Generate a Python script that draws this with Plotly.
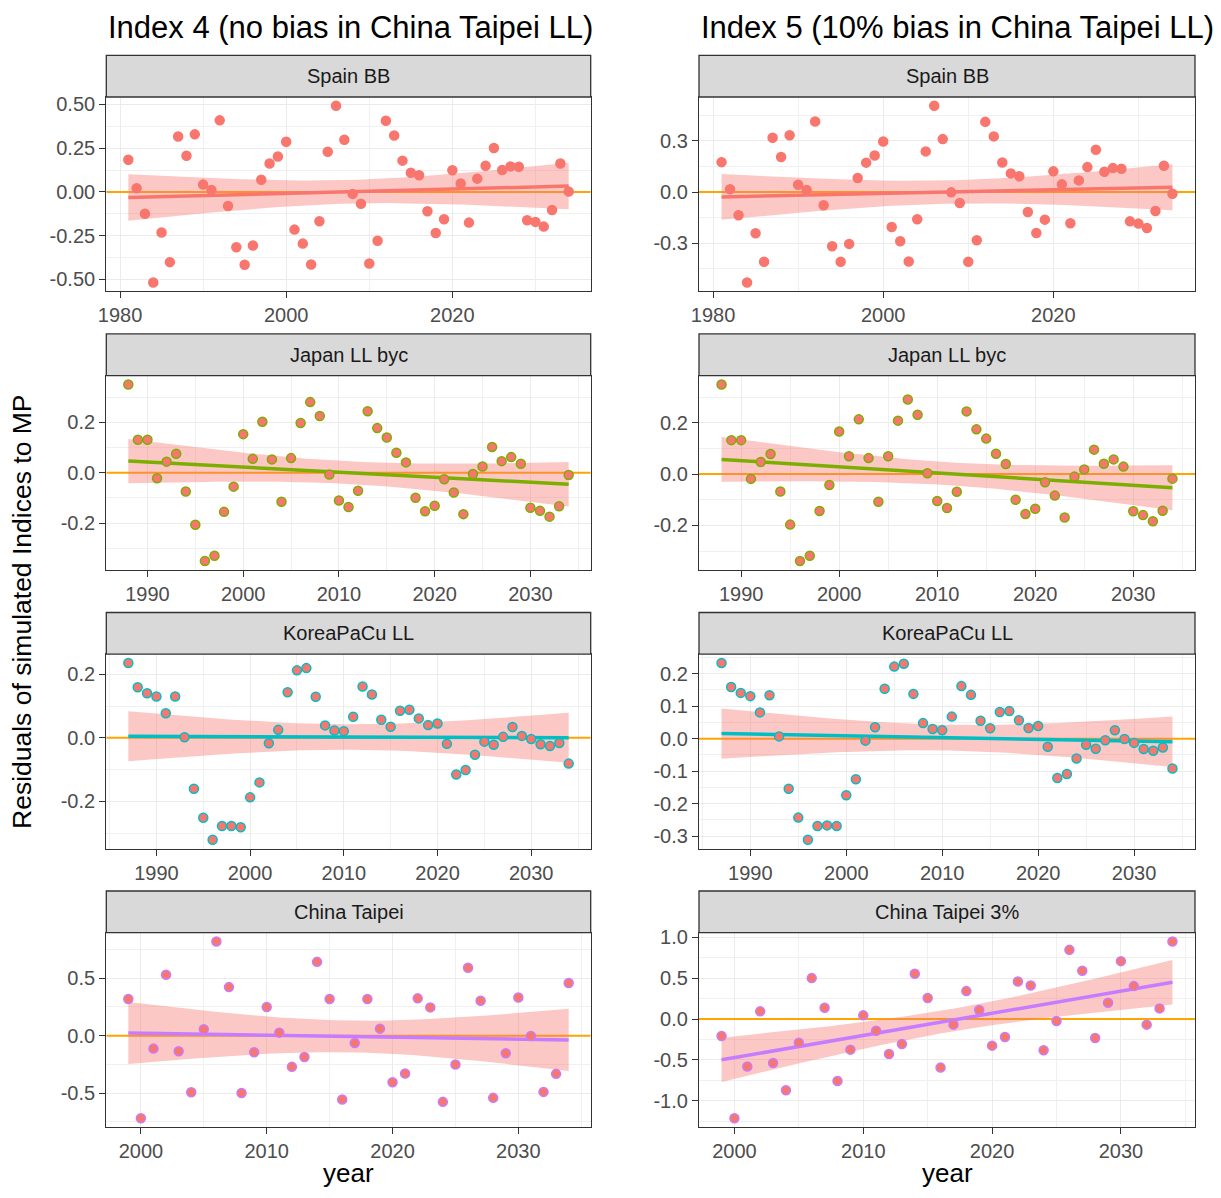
import numpy as np
import plotly.graph_objects as go

# ---------------- data ----------------
YEARS_SPAIN = list(range(1981, 2035))
SPAIN_I4 = [0.184, 0.021, -0.124, -0.517, -0.232, -0.401, 0.317, 0.207, 0.329, 0.042,
            0.011, 0.409, -0.080, -0.316, -0.416, -0.306, 0.070, 0.163, 0.203, 0.287,
            -0.215, -0.295, -0.414, -0.167, 0.230, 0.492, 0.298, -0.011, -0.067, -0.409,
            -0.279, 0.407, 0.323, 0.179, 0.110, 0.095, -0.110, -0.234, -0.156, 0.124,
            0.048, -0.175, 0.076, 0.150, 0.251, 0.125, 0.146, 0.144, -0.162, -0.171,
            -0.198, -0.103, 0.163, 0.002]
SPAIN_I5 = [0.175, 0.016, -0.136, -0.530, -0.242, -0.409, 0.318, 0.205, 0.333, 0.043,
            0.012, 0.413, -0.078, -0.318, -0.409, -0.304, 0.082, 0.172, 0.214, 0.296,
            -0.205, -0.288, -0.407, -0.160, 0.238, 0.505, 0.310, -0.002, -0.064, -0.409,
            -0.283, 0.411, 0.326, 0.173, 0.109, 0.092, -0.117, -0.240, -0.162, 0.121,
            0.045, -0.183, 0.068, 0.146, 0.248, 0.119, 0.140, 0.136, -0.172, -0.185,
            -0.211, -0.111, 0.154, -0.010]

YEARS_JAPAN = list(range(1988, 2035))
JAPAN_I4 = [0.350, 0.131, 0.131, -0.022, 0.044, 0.075, -0.074, -0.206, -0.350, -0.329,
            -0.155, -0.055, 0.153, 0.055, 0.202, 0.053, -0.115, 0.058, 0.197, 0.280,
            0.225, -0.007, -0.110, -0.136, -0.071, 0.244, 0.177, 0.140, 0.079, 0.041,
            -0.099, -0.153, -0.131, -0.026, -0.078, -0.164, -0.005, 0.025, 0.102, 0.046,
            0.062, 0.036, -0.139, -0.151, -0.174, -0.133, -0.009]
JAPAN_I5 = [0.349, 0.132, 0.132, -0.019, 0.047, 0.078, -0.068, -0.197, -0.339, -0.318,
            -0.144, -0.043, 0.166, 0.069, 0.213, 0.062, -0.108, 0.069, 0.208, 0.290,
            0.231, 0.003, -0.105, -0.132, -0.069, 0.244, 0.174, 0.138, 0.079, 0.039,
            -0.100, -0.156, -0.135, -0.032, -0.084, -0.169, -0.010, 0.018, 0.095, 0.040,
            0.057, 0.029, -0.145, -0.160, -0.184, -0.143, -0.018]

YEARS_KOREA = list(range(1987, 2035))
KOREA_I4 = [0.235, 0.159, 0.140, 0.130, 0.077, 0.130, 0.002, -0.160, -0.251, -0.320,
            -0.277, -0.277, -0.281, -0.187, -0.140, -0.017, 0.025, 0.143, 0.212, 0.219,
            0.129, 0.039, 0.023, 0.021, 0.066, 0.161, 0.136, 0.057, 0.035, 0.085,
            0.088, 0.061, 0.040, 0.045, -0.019, -0.115, -0.101, -0.053, -0.012, -0.022,
            0.003, 0.034, 0.006, -0.004, -0.020, -0.026, -0.016, -0.081]
KOREA_I5 = [0.233, 0.159, 0.141, 0.131, 0.081, 0.134, 0.007, -0.154, -0.243, -0.311,
            -0.269, -0.267, -0.269, -0.174, -0.125, -0.006, 0.035, 0.154, 0.222, 0.231,
            0.138, 0.048, 0.030, 0.026, 0.068, 0.162, 0.135, 0.055, 0.032, 0.082,
            0.085, 0.057, 0.033, 0.039, -0.025, -0.121, -0.109, -0.061, -0.019, -0.031,
            -0.005, 0.026, -0.001, -0.013, -0.032, -0.037, -0.027, -0.092]

YEARS_TAIPEI = list(range(1999, 2035))
TAIPEI_I4 = [0.319, -0.719, -0.113, 0.530, -0.136, -0.493, 0.055, 0.820, 0.423, -0.499,
             -0.145, 0.249, 0.026, -0.272, -0.186, 0.643, 0.319, -0.557, -0.064, 0.319,
             0.061, -0.406, -0.330, 0.325, 0.246, -0.577, -0.252, 0.591, 0.304, -0.542,
             -0.154, 0.333, -0.003, -0.490, -0.333, 0.458]
TAIPEI_I5 = [-0.208, -1.214, -0.582, 0.094, -0.538, -0.872, -0.289, 0.501, 0.138, -0.758,
             -0.375, 0.045, -0.143, -0.428, -0.305, 0.554, 0.257, -0.595, -0.069, 0.342,
             0.110, -0.326, -0.220, 0.460, 0.411, -0.383, -0.024, 0.847, 0.591, -0.232,
             0.200, 0.709, 0.403, -0.069, 0.130, 0.949]

COLUMN_TITLES = ["Index 4 (no bias in China Taipei LL)", "Index 5 (10% bias in China Taipei LL)"]
STRIP_LABELS = [["Spain BB", "Japan LL byc", "KoreaPaCu LL", "China Taipei"],
                ["Spain BB", "Japan LL byc", "KoreaPaCu LL", "China Taipei 3%"]]
Y_TITLE = "Residuals of simulated Indices to MP"
X_TITLE = "year"

# ---------------- styling ----------------
OFF = 8                      # page body margin compensation
W, H = 1221 - 2 * OFF, 1198 - 2 * OFF
FONT = "Liberation Sans, Arial, sans-serif"
SERIES_COLORS = ["#F8766D", "#7CAE00", "#00BFC4", "#C77CFF"]
POINT_FILL = "#F8766D"
RIBBON = "rgba(248,118,109,0.40)"
COL_X = [(106.3, 590.7), (699.0, 1195.0)]
STRIP_TOPS = [55.3, 333.9, 612.5, 891.0]
STRIP_H = 41.7
PLOT_H = 194.3
TICK_FONT = 20
STRIP_FONT = 20

Y_STEP = [[0.25, 0.3], [0.2, 0.2], [0.2, 0.1], [0.5, 0.5]]
Y_FMT = [["{:.2f}", "{:.1f}"], ["{:.1f}", "{:.1f}"], ["{:.1f}", "{:.1f}"], ["{:.1f}", "{:.1f}"]]
X_STEP = [20, 10, 10, 10]

data = [[(YEARS_SPAIN, SPAIN_I4), (YEARS_SPAIN, SPAIN_I5)],
        [(YEARS_JAPAN, JAPAN_I4), (YEARS_JAPAN, JAPAN_I5)],
        [(YEARS_KOREA, KOREA_I4), (YEARS_KOREA, KOREA_I5)],
        [(YEARS_TAIPEI, TAIPEI_I4), (YEARS_TAIPEI, TAIPEI_I5)]]


def px(v):
    return (v - OFF) / W


def py(v):
    return 1 - (v - OFF) / H


def t975(df):
    z = 1.959963985
    return (z + (z**3 + z) / (4 * df) + (5 * z**5 + 16 * z**3 + 3 * z) / (96 * df**2)
            + (3 * z**7 + 19 * z**5 + 17 * z**3 - 15 * z) / (384 * df**3))


def lm_band(x, y, n=80):
    x = np.asarray(x, float)
    y = np.asarray(y, float)
    b, a = np.polyfit(x, y, 1)
    res = y - (a + b * x)
    N = len(x)
    s = np.sqrt(np.sum(res**2) / (N - 2))
    xb = x.mean()
    sxx = np.sum((x - xb) ** 2)
    xg = np.linspace(x.min(), x.max(), n)
    yg = a + b * xg
    se = s * np.sqrt(1.0 / N + (xg - xb) ** 2 / sxx)
    t = t975(N - 2)
    return xg, yg, yg - t * se, yg + t * se


def ticks_in(lo, hi, step):
    k0 = int(np.ceil(lo / step - 1e-9))
    k1 = int(np.floor(hi / step + 1e-9))
    return [round(k * step, 6) + 0.0 for k in range(k0, k1 + 1)]


fig = go.Figure()
layout = dict(width=W, height=H, margin=dict(l=0, r=0, t=0, b=0, autoexpand=False),
              plot_bgcolor="white", paper_bgcolor="white", showlegend=False,
              font=dict(family=FONT, color="#4D4D4D"))
shapes = []
annotations = []

k = 0
for r in range(4):
    for c in range(2):
        k += 1
        xs, ys = data[r][c]
        col = SERIES_COLORS[r]
        xg, yg, ylo, yhi = lm_band(xs, ys)
        allv = list(ys) + list(ylo) + list(yhi) + [0.0]
        ymin, ymax = min(allv), max(allv)
        ypad = 0.05 * (ymax - ymin)
        yr = [ymin - ypad, ymax + ypad]
        xpad = 0.05 * (max(xs) - min(xs))
        xr = [min(xs) - xpad, max(xs) + xpad]

        xa = "x" if k == 1 else f"x{k}"
        ya = "y" if k == 1 else f"y{k}"
        x0, x1 = COL_X[c]
        ptop = STRIP_TOPS[r] + STRIP_H
        pbot = ptop + PLOT_H

        ys_step = Y_STEP[r][c]
        yt = ticks_in(yr[0], yr[1], ys_step)
        ytxt = [Y_FMT[r][c].format(v) for v in yt]
        xs_step = X_STEP[r]
        xt = ticks_in(xr[0], xr[1], xs_step)
        xtxt = [str(int(v)) for v in xt]

        axis_common = dict(showline=True, mirror=True, linecolor="#333333", linewidth=1.3,
                           ticks="outside", ticklen=6, tickwidth=1.1, tickcolor="#333333",
                           tickfont=dict(size=TICK_FONT, color="#4D4D4D", family=FONT),
                           showgrid=True, gridcolor="#EBEBEB", gridwidth=1.1,
                           zeroline=False, autorange=False, automargin=False)
        layout[f"xaxis{'' if k == 1 else k}"] = dict(
            axis_common, domain=[px(x0), px(x1)], anchor=ya, range=xr,
            tickmode="array", tickvals=xt, ticktext=xtxt,
            minor=dict(dtick=xs_step / 2, tick0=0, showgrid=True, gridcolor="#F0F0F0",
                       gridwidth=0.6, ticklen=0))
        layout[f"yaxis{'' if k == 1 else k}"] = dict(
            axis_common, domain=[py(pbot), py(ptop)], anchor=xa, range=yr,
            tickmode="array", tickvals=yt, ticktext=ytxt,
            minor=dict(dtick=ys_step / 2, tick0=0, showgrid=True, gridcolor="#F0F0F0",
                       gridwidth=0.6, ticklen=0))

        fig.add_trace(go.Scatter(x=xr, y=[0, 0], mode="lines", xaxis=xa, yaxis=ya,
                                 line=dict(color="#FFA500", width=2), hoverinfo="skip"))
        fig.add_trace(go.Scatter(x=list(xg) + list(xg[::-1]), y=list(yhi) + list(ylo[::-1]),
                                 mode="lines", fill="toself", fillcolor=RIBBON,
                                 line=dict(width=0, color=RIBBON), xaxis=xa, yaxis=ya,
                                 hoverinfo="skip"))
        fig.add_trace(go.Scatter(x=xg, y=yg, mode="lines", xaxis=xa, yaxis=ya,
                                 line=dict(color=col, width=3.5)))
        fig.add_trace(go.Scatter(x=xs, y=ys, mode="markers", xaxis=xa, yaxis=ya,
                                 marker=dict(size=9, color=POINT_FILL,
                                             line=dict(color=col, width=1.5))))

        shapes.append(dict(type="rect", xref="paper", yref="paper",
                           x0=px(x0), x1=px(x1),
                           y0=py(ptop), y1=py(STRIP_TOPS[r]),
                           fillcolor="#D9D9D9", line=dict(color="#333333", width=1.3),
                           layer="above"))
        annotations.append(dict(text=STRIP_LABELS[c][r], xref="paper", yref="paper",
                                x=px((x0 + x1) / 2), y=py(STRIP_TOPS[r] + STRIP_H / 2),
                                showarrow=False, xanchor="center", yanchor="middle",
                                font=dict(size=STRIP_FONT, color="#1A1A1A", family=FONT)))

for c in range(2):
    x0, x1 = COL_X[c]
    annotations.append(dict(text=COLUMN_TITLES[c], xref="paper", yref="paper",
                            x=px(x0), y=1.0, xanchor="left", yanchor="top",
                            showarrow=False, font=dict(size=31, color="black", family=FONT)))
    annotations.append(dict(text=X_TITLE, xref="paper", yref="paper",
                            x=px((x0 + x1) / 2), y=0.0, xanchor="center",
                            yanchor="bottom", showarrow=False,
                            font=dict(size=26, color="black", family=FONT)))

annotations.append(dict(text=Y_TITLE, xref="paper", yref="paper", x=px(22), y=py(612),
                        xanchor="center", yanchor="middle", textangle=-90, showarrow=False,
                        font=dict(size=26.5, color="black", family=FONT)))

layout["shapes"] = shapes
layout["annotations"] = annotations
fig.update_layout(**layout)
fig.write_html("out.html")
